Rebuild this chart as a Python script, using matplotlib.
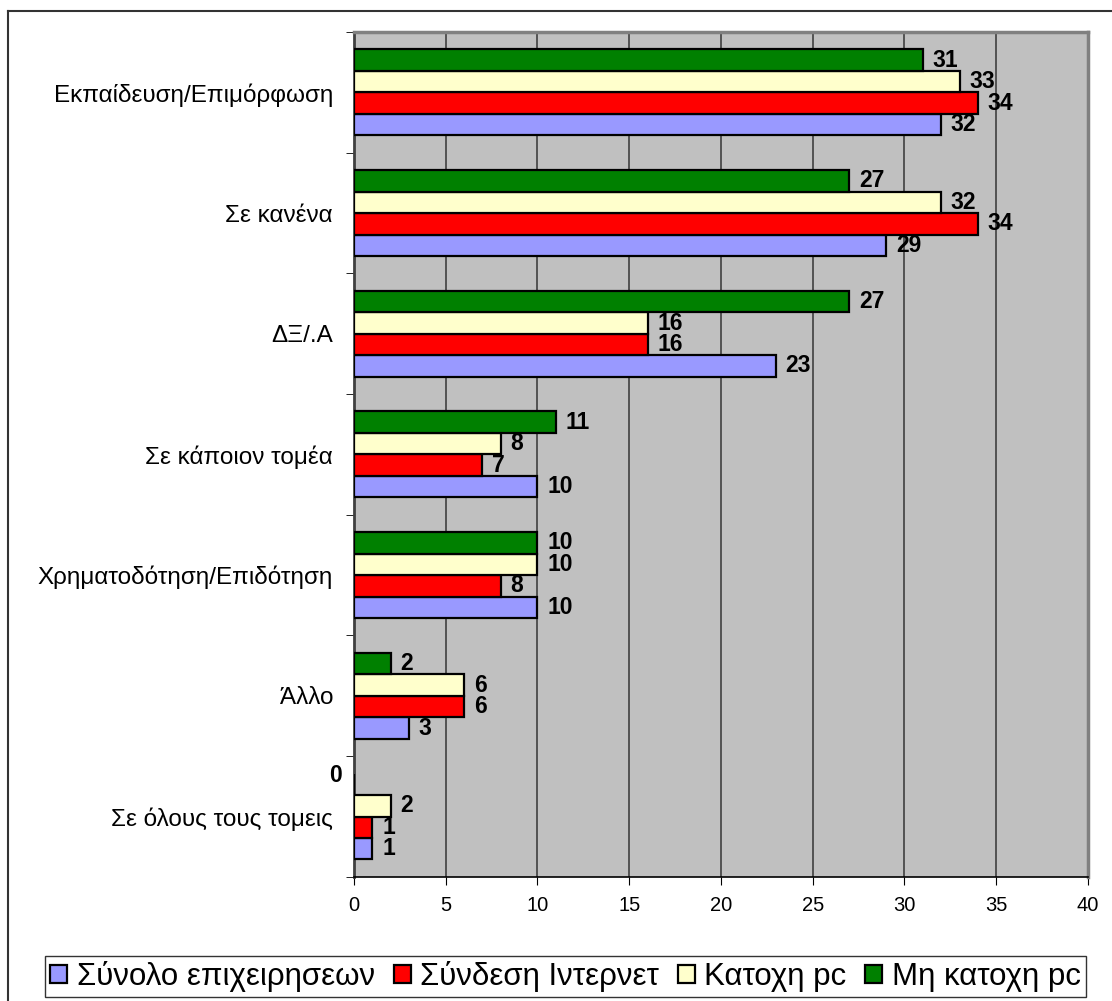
import numpy as np
import matplotlib
matplotlib.use("Agg")
import matplotlib.pyplot as plt
from matplotlib.lines import Line2D

plt.rcParams["font.family"] = ["Liberation Sans", "DejaVu Sans"]

# top to bottom as in the chart
categories = ["Εκπαίδευση/Επιμόρφωση", "Σε κανένα", "ΔΞ/.Α", "Σε κάποιον τομέα",
              "Χρηματοδότηση/Επιδότηση", "Άλλο", "Σε όλους τους τομεις"]
series_names = ["Σύνολο επιχειρησεων", "Σύνδεση Ιντερνετ", "Κατοχη pc", "Μη κατοχη pc"]
synolo = [32, 29, 23, 10, 10, 3, 1]
internet = [34, 34, 16, 7, 8, 6, 1]
katoxi = [33, 32, 16, 8, 10, 6, 2]
mi_katoxi = [31, 27, 27, 11, 10, 2, 0]
colors = ["#9999FF", "#FF0000", "#FFFFCC", "#008000"]
xticks = [0, 5, 10, 15, 20, 25, 30, 35, 40]

fig = plt.figure(figsize=(11.12, 10.01), dpi=100)
ax = fig.add_axes([0.3183, 0.124, 0.6601, 0.844])
ax.set_facecolor("#C0C0C0")

n = len(categories)
y = np.arange(n)[::-1]  # first category at top
h = 0.178
offsets = [-1.5 * h, -0.5 * h, 0.5 * h, 1.5 * h]
for vals, c, off, name in zip([synolo, internet, katoxi, mi_katoxi], colors, offsets, series_names):
    bars = ax.barh(y + off, vals, height=h, color=c, edgecolor="black", linewidth=1.6,
                   label=name, zorder=3)
    for b, v in zip(bars, vals):
        cy = b.get_y() + b.get_height() / 2
        if v == 0:
            # Excel puts the zero label left of the axis, slightly raised
            ax.annotate(str(v), (0, cy), xytext=(-9, 6), textcoords="offset points",
                        ha="right", va="center", fontsize=16.5, fontweight="bold",
                        annotation_clip=False)
        else:
            ax.annotate(str(v), (v, cy), xytext=(7, 0), textcoords="offset points",
                        ha="left", va="center", fontsize=16.5, fontweight="bold", zorder=4)

ax.set_xlim(0, 40)
ax.set_ylim(-0.5, n - 0.5)
ax.set_xticks(xticks)
ax.tick_params(axis="x", labelsize=14.5, length=6, direction="out", pad=8)
ax.grid(axis="x", color="#404040", linewidth=1.2, zorder=1)

ax.set_yticks(y)
ax.set_yticklabels(categories, fontsize=17.5)
ax.tick_params(axis="y", length=0, pad=15)
# category boundary ticks
ax.set_yticks(np.arange(-0.5, n, 1.0), minor=True)
ax.tick_params(axis="y", which="minor", length=6, direction="out")

for s in ["top", "right"]:
    ax.spines[s].set_color("#808080")
    ax.spines[s].set_linewidth(2.5)
ax.spines["left"].set_color("#404040")
ax.spines["left"].set_linewidth(2)
ax.spines["bottom"].set_color("black")
ax.spines["bottom"].set_linewidth(1.2)

handles, labels = ax.get_legend_handles_labels()
leg = fig.legend(handles, labels, loc="center", bbox_to_anchor=(0.5085, 0.0245),
                 ncol=4, fontsize=22.5, frameon=True, fancybox=False, edgecolor="black",
                 handlelength=0.55, handleheight=0.55, handletextpad=0.3,
                 columnspacing=0.6, borderpad=0.15, borderaxespad=0)
leg.get_frame().set_linewidth(1)

# outer chart border (left and top visible; right/bottom cut off)
x0 = 7.5 / 1112
y0 = 1 - 11 / 1001
fig.add_artist(Line2D([x0, x0], [0, y0], transform=fig.transFigure, color="#333333", lw=1.5))
fig.add_artist(Line2D([x0, 1], [y0, y0], transform=fig.transFigure, color="#333333", lw=1.5))

fig.savefig("out.png", dpi=100)
